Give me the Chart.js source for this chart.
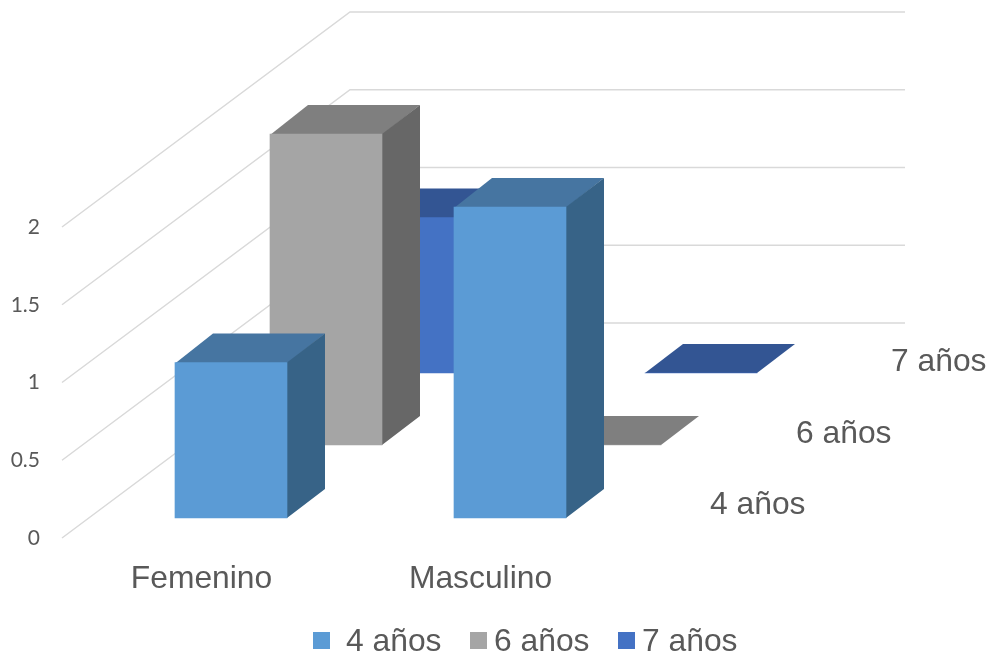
<!DOCTYPE html>
<html>
<head>
<meta charset="utf-8">
<title>Edad por sexo</title>
<style>
  html, body { margin: 0; background: #fff; }
  canvas { display: block; }
</style>
<script src="https://cdn.jsdelivr.net/npm/chart.js@4"></script>
</head>
<body>
<canvas id="ageChart" width="990" height="654"></canvas>
<script>
const categories = ["Femenino", "Masculino"];
const seriesNames = ["4 años", "6 años", "7 años"];
const values4 = [1, 2];
const values6 = [2, 0];
const values7 = [1, 0];
const yTicks = [0, 0.5, 1, 1.5, 2];

const textColor = "#595959";
const gridColor = "#D9D9D9";
const labelFont = "31.8px 'Liberation Sans'";

// front, top and side shades per series
const frontColors = ["#5B9BD5", "#A5A5A5", "#4472C4"];
const topColors = ["#4675A1", "#7F7F7F", "#335593"];
const sideColors = ["#376387", "#676767", "#2C4A80"];

// projection of the depth axis
const barDepth = { x: 38, y: -29 };
const wallDepth = { x: 288, y: -215 };
const wallRight = 905;
function seriesShift(i) {
  return { x: 29.5 + Math.floor(95.5 * i), y: -20 - Math.ceil(72.5 * i) };
}

const depthLabelPos = [[710, 514], [796, 443], [891, 371]];
const legendPos = [[313, 346], [470, 494], [618, 642]];

function poly(ctx, color, pts) {
  ctx.fillStyle = color;
  ctx.beginPath();
  pts.forEach(([x, y], i) => (i ? ctx.lineTo(x, y) : ctx.moveTo(x, y)));
  ctx.closePath();
  ctx.fill();
}

const bars3d = {
  id: "bars3d",
  beforeDatasetsDraw(chart) {
    // side and back wall gridlines
    const { ctx, chartArea, scales } = chart;
    ctx.save();
    ctx.strokeStyle = gridColor;
    ctx.lineWidth = 1.5;
    scales.y.ticks.forEach((t) => {
      const y = scales.y.getPixelForValue(t.value);
      ctx.beginPath();
      ctx.moveTo(chartArea.left, y);
      ctx.lineTo(chartArea.left + wallDepth.x, y + wallDepth.y);
      ctx.lineTo(wallRight, y + wallDepth.y);
      ctx.stroke();
    });
    ctx.restore();
  },
  beforeDatasetDraw(chart, args) {
    const { ctx } = chart;
    const i = args.index;
    const shift = seriesShift(i);
    ctx.save();
    ctx.translate(shift.x, shift.y);
    // the front face gets drawn by the bar controller inside this translate
    args.meta.data.forEach((bar) => {
      const { x, y, base, width } = bar.getProps(["x", "y", "base", "width"], true);
      const l = x - width / 2;
      const r = x + width / 2;
      const dx = barDepth.x;
      const dy = barDepth.y;
      if (base > y) {
        // 1px tuck under the front face so no seam shows on fractional edges
        poly(ctx, topColors[i], [[l, y + 1], [l + dx, y + dy], [r + dx, y + dy], [r, y + 1]]);
        poly(ctx, sideColors[i], [[r - 1, y], [r, y], [r + dx, y + dy], [r + dx, base + dy], [r, base], [r - 1, base]]);
      } else {
        poly(ctx, topColors[i], [[l, y], [l + dx, y + dy], [r + dx, y + dy], [r, y]]);
      }
    });
  },
  afterDatasetDraw(chart) {
    chart.ctx.restore();
  },
  afterDraw(chart) {
    const { ctx } = chart;
    ctx.save();
    ctx.font = labelFont;
    ctx.textAlign = "left";
    ctx.textBaseline = "alphabetic";
    chart.data.datasets.forEach((ds, i) => {
      ctx.fillStyle = textColor;
      ctx.fillText(ds.label, depthLabelPos[i][0], depthLabelPos[i][1]);
      ctx.fillText(ds.label, legendPos[i][1], 651);
      ctx.fillStyle = frontColors[i];
      ctx.fillRect(legendPos[i][0], 632, 17, 17);
    });
    ctx.restore();
  },
};

const allValues = [values4, values6, values7];

new Chart(document.getElementById("ageChart"), {
  type: "bar",
  data: {
    labels: categories,
    datasets: seriesNames.map((name, i) => ({
      label: name,
      data: allValues[i],
      backgroundColor: frontColors[i],
      barThickness: 112,
      grouped: false,
      clip: false,
    })),
  },
  plugins: [bars3d],
  options: {
    responsive: false,
    animation: false,
    layout: { padding: { top: 227, right: 370, left: 0, bottom: 0 } },
    plugins: { legend: { display: false }, tooltip: { enabled: false } },
    scales: {
      x: {
        afterFit: (scale) => { scale.height = 116; },
        grid: { display: false, drawTicks: false },
        border: { display: false },
        ticks: {
          color: textColor,
          padding: 22,
          maxRotation: 0,
          font: { family: "Liberation Sans", size: 31.8 },
        },
      },
      y: {
        min: 0,
        max: 2,
        afterFit: (scale) => { scale.width = 62; },
        afterBuildTicks: (scale) => { scale.ticks = yTicks.map((v) => ({ value: v, label: String(v) })); },
        grid: { display: false, drawTicks: false },
        border: { display: false },
        ticks: {
          color: textColor,
          padding: 22,
          callback: (v) => String(v),
          font: { family: "Lato", size: 21 },
        },
      },
    },
  },
});
</script>
</body>
</html>
